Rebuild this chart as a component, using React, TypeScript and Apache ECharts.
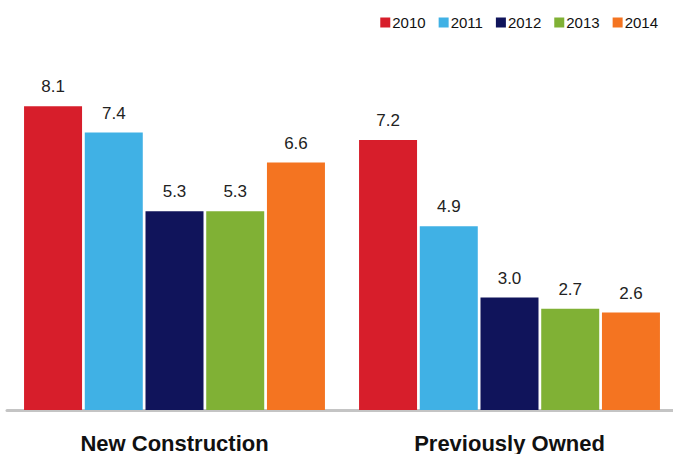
import React, { useEffect, useRef } from "react";
import * as echarts from "echarts";

const categories = ["New Construction", "Previously Owned"];
const years = ["2010", "2011", "2012", "2013", "2014"];
const values2010 = [8.1, 7.2];
const values2011 = [7.4, 4.9];
const values2012 = [5.3, 3.0];
const values2013 = [5.3, 2.7];
const values2014 = [6.6, 2.6];
const colors = ["#d71e2b", "#40b1e5", "#10145b", "#80b135", "#f47421"];

export default function App() {
  const ref = useRef<HTMLDivElement>(null);
  useEffect(() => {
    document.body.style.margin = "0";
    document.body.style.overflow = "hidden";
    if (!ref.current) return;
    const chart = echarts.init(ref.current, null, { renderer: "svg" });
    const seriesData = [values2010, values2011, values2012, values2013, values2014];
    chart.setOption({
      animation: false,
      textStyle: { fontFamily: "Liberation Sans, Arial, sans-serif" },
      legend: {
        top: 10,
        right: 17,
        itemWidth: 10,
        itemHeight: 10,
        itemGap: 13,
        icon: "rect",
        textStyle: { fontSize: 15, color: "#111", padding: [0, 0, 0, -3] },
        data: years,
      },
      grid: { left: 7, width: 670, top: 35, bottom: 44 },
      xAxis: {
        type: "category",
        data: categories,
        axisTick: { show: false },
        axisLine: { lineStyle: { color: "#c4c4c4", width: 3 } },
        axisLabel: { fontSize: 22, fontWeight: "bold", color: "#111", margin: 22 },
      },
      yAxis: {
        type: "value",
        min: 0,
        max: 10,
        show: false,
        splitLine: { show: false },
      },
      series: years.map((y, i) => ({
        name: y,
        type: "bar",
        data: seriesData[i],
        barWidth: 58,
        barGap: "4.7%",
        itemStyle: { color: colors[i] },
        label: {
          show: true,
          position: "top",
          distance: 11,
          fontSize: 17,
          color: "#222",
          formatter: (p: any) => Number(p.value).toFixed(1),
        },
      })),
    });
    return () => chart.dispose();
  }, []);
  return (
    <div style={{ width: 673, height: 454, overflow: "hidden" }}>
      <div ref={ref} style={{ width: 680, height: 454 }} />
    </div>
  );
}
